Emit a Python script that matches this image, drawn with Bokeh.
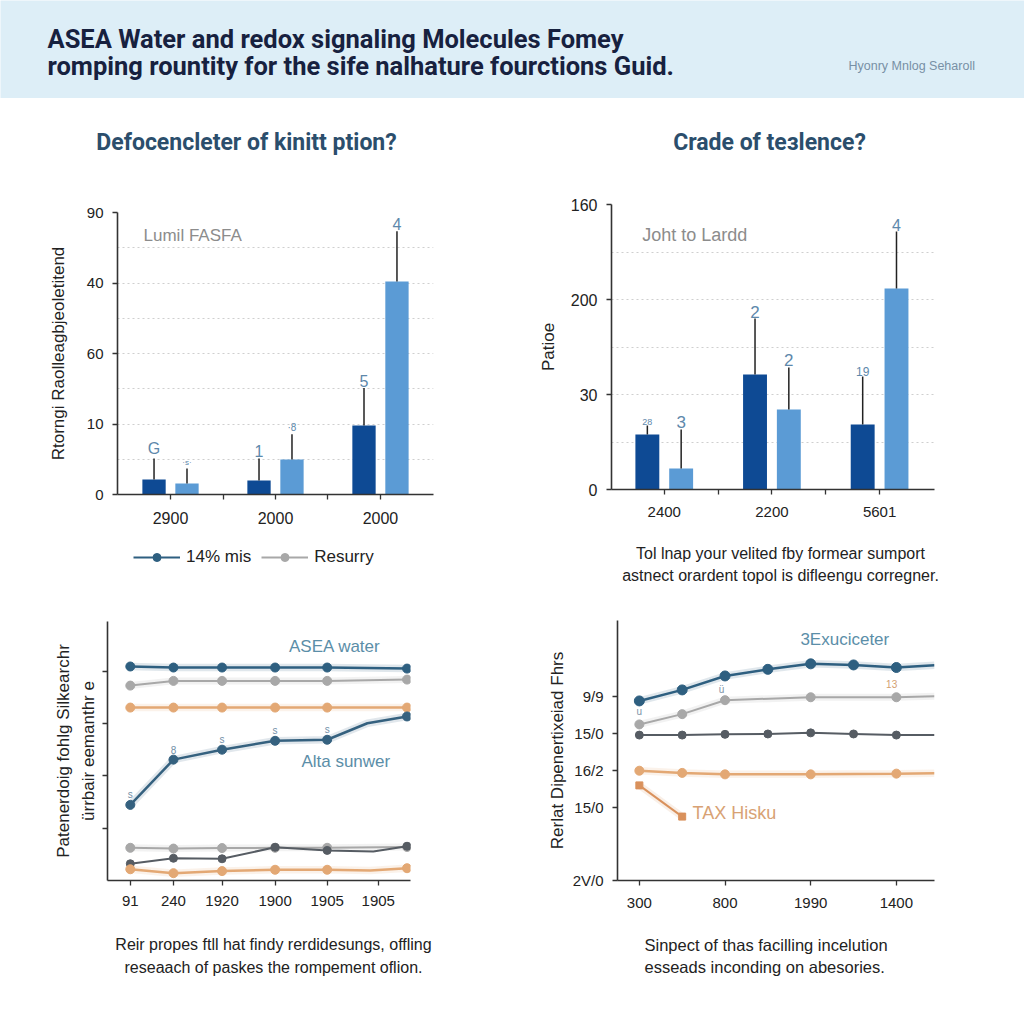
from bokeh.plotting import figure
from bokeh.layouts import column, row
from bokeh.models import (Range1d, FixedTicker, Legend, LegendItem,
                          LinearAxis, ColumnDataSource)
from bokeh.core.properties import value, field
from bokeh.embed import file_html
from bokeh.resources import INLINE

NAN = float("nan")

# ---------------- data ----------------
header_title = ["ASEA Water and redox signaling Molecules Fomey",
                "romping rountity for the sife nalhature fourctions Guid."]
header_note = "Hyonry Mnlog Seharoll"

# top-left grouped bars
tl_title = "Defocencleter of kinitt ption?"
tl_ylabel = "Rtorngi Raolleagbjeoletitend"
tl_categories = ["2900", "2000", "2000"]
tl_ytick_values = [0, 22.5, 45, 67.5, 90]
tl_ytick_labels = ["0", "10", "60", "40", "90"]
tl_dark = [4.8, 4.5, 22.0]
tl_light = [3.5, 11.2, 68.0]
tl_dark_err = [11.5, 11.5, 34.0]
tl_light_err = [8.3, 19.2, 84.0]
tl_dark_marks = ["G", "1", "5"]
tl_light_marks = ["·s·", "·8", "4"]
tl_note = "Lumil FASFA"
tl_legend = ["14% mis", "Resurry"]

# top-right grouped bars
tr_title = "Crade of te\u0437lence?"
tr_ylabel = "Patioe"
tr_categories = ["2400", "2200", "5601"]
tr_ytick_values = [0, 160 / 3, 320 / 3, 160]
tr_ytick_labels = ["0", "30", "200", "160"]
tr_dark = [30.9, 64.6, 36.5]
tr_light = [11.8, 44.9, 112.8]
tr_dark_err = [35.9, 96.0, 63.4]
tr_light_err = [33.7, 68.5, 144.8]
tr_dark_marks = ["28", "2", "19"]
tr_light_marks = ["3", "2", "4"]
tr_note = "Joht to Lardd"
tr_caption = ["Tol lnap your velited fby formear sumport",
              "astnect orardent topol is difleengu corregner."]

# bottom-left lines
bl_ylabel = ["Patenerdoig fohlg Silkearchr", "\u00fcrrbair eemanthr e"]
bl_xticks = [0, 0.87, 1.85, 2.92, 3.97, 5.0]
bl_xlabels = ["91", "240", "1920", "1900", "1905", "1905"]
bl_yticks = [2, 4, 6, 8]
bl_x = [0, 0.87, 1.85, 2.92, 3.97, 5.58]
bl_asea = [8.18, 8.14, 8.14, 8.14, 8.14, 8.10]
bl_gray_hi = [7.45, 7.63, 7.63, 7.63, 7.63, 7.68]
bl_orange_hi = [6.61, 6.61, 6.61, 6.61, 6.61, 6.61]
bl_alta_x = [0, 0.87, 1.85, 2.92, 3.97, 4.78, 5.58]
bl_alta = [2.89, 4.62, 5.00, 5.34, 5.38, 6.01, 6.27]
bl_alta_marks = ["s", "8", "s", "s", "s"]
bl_gray_lo = [1.25, 1.22, 1.24, 1.25, 1.25, 1.28]
bl_dark_x = [0, 0.87, 1.85, 2.92, 3.97, 4.9, 5.58]
bl_dark = [0.64, 0.85, 0.83, 1.27, 1.15, 1.11, 1.31]
bl_orange_lo_x = [0, 0.87, 1.85, 2.92, 3.97, 4.84, 5.58]
bl_orange_lo = [0.43, 0.28, 0.36, 0.41, 0.41, 0.38, 0.47]
bl_notes = ["ASEA water", "Alta sunwer"]
bl_caption = ["Reir propes ftll hat findy rerdidesungs, offling",
              "reseaach of paskes the rompement oflion."]

# bottom-right lines
br_ylabel = "Rerlat Dipenertix\u0435iad Fhrs"
br_yticks = [0, 2, 3, 4, 5]
br_ylabels = ["2V/0", "15/0", "16/2", "15/0", "9/9"]
br_xticks = [0, 2, 4, 6]
br_xlabels = ["300", "800", "1990", "1400"]
br_x = [0, 1, 2, 3, 4, 5, 6, 6.89]
br_blue = [4.89, 5.19, 5.57, 5.75, 5.90, 5.87, 5.80, 5.86]
br_dark = [3.96, 3.96, 3.98, 3.99, 4.02, 3.99, 3.96, 3.96]
br_sparse_x = [0, 1, 2, 4, 6, 6.89]
br_gray = [4.25, 4.53, 4.91, 4.99, 4.99, 5.02]
br_orange = [2.99, 2.93, 2.89, 2.89, 2.91, 2.92]
br_tax_x = [0, 1]
br_tax = [2.59, 1.74]
br_notes = ["3Exuciceter", "TAX Hisku"]
br_small = ["u", "\u00fc", "13"]
br_small_x = [0, 1.92, 5.89]
br_small_y = [4.6, 5.2, 5.34]
br_caption = ["Sinpect of thas facilling incelution",
              "esseads inconding on abesories."]

# ---------------- style ----------------
FONT = "Liberation Sans"
TFONT = "Roboto"
DARK_BAR = "#0e4a94"
LIGHT_BAR = "#5b9bd5"
BLUE = "#2e5f80"
GRAY = "#a8a8a8"
ORANGE = "#e3a874"
DGRAY = "#565c63"
LABEL_BLUE = "#5d88ab"
NOTE_BLUE = "#5b8ea8"
W = 512


def iso(fig):
    # wrap a figure on its own so that no frame alignment with siblings happens
    return row(fig, spacing=0)


def strip(width, height, bg="white"):
    s = figure(width=width, height=height, x_range=Range1d(0, width),
               y_range=Range1d(0, height), toolbar_location=None,
               output_backend="svg", x_axis_type=None, y_axis_type=None,
               min_border=0, title=None)
    s.grid.visible = False
    s.outline_line_color = None
    s.background_fill_color = bg
    s.border_fill_color = bg
    return s


def strip_text(s, xs, ys_from_top, texts, size, color="#222222", font=FONT,
               style="normal", align="left"):
    h = s.height
    s.text(x=xs, y=[h - y for y in ys_from_top], text=texts, text_font=value(font),
           text_font_style=style, text_font_size=size, text_color=color,
           text_baseline="middle", text_align=align)


def base_fig(width, height, xr, yr, borders):
    l, r, t, b = borders
    p = figure(width=width, height=height, x_range=Range1d(*xr), y_range=Range1d(*yr),
               toolbar_location=None, output_backend="svg", title=None,
               min_border_left=l, min_border_right=r,
               min_border_top=t, min_border_bottom=b)
    p.outline_line_color = None
    p.background_fill_color = "white"
    p.border_fill_color = "white"
    p.xgrid.visible = False
    p.ygrid.visible = False
    for ax in p.axis:
        ax.axis_line_color = "#333333"
        ax.axis_line_width = 1.6
        ax.major_tick_line_color = "#333333"
        ax.major_tick_line_width = 1.3
        ax.major_tick_in = 0
        ax.major_tick_out = 5
        ax.minor_tick_line_color = None
        ax.major_label_text_font = FONT
        ax.major_label_text_color = "#222222"
        ax.major_label_text_font_size = "15px"
        ax.axis_label_text_font = FONT
        ax.axis_label_text_font_style = "normal"
        ax.axis_label_text_color = "#222222"
        ax.axis_label_text_font_size = "17px"
    return p


def set_ticks(axis, ticks, labels):
    axis.ticker = FixedTicker(ticks=list(ticks))
    axis.major_label_overrides = {t: s for t, s in zip(ticks, labels)}


def bar_chart(p, dark, light, dark_err, light_err, dark_marks, light_marks,
              dark_sizes, light_sizes, categories, yticks, ylabels):
    n = len(categories)
    dx, bw = 0.157, 0.222
    xd = [i - dx for i in range(n)]
    xl = [i + dx for i in range(n)]
    p.vbar(x=xd, top=dark, width=bw, fill_color=DARK_BAR, line_color=None)
    p.vbar(x=xl, top=light, width=bw, fill_color=LIGHT_BAR, line_color=None)
    p.segment(x0=xd, y0=dark, x1=xd, y1=dark_err, line_color="#222222", line_width=1.5)
    p.segment(x0=xl, y0=light, x1=xl, y1=light_err, line_color="#222222", line_width=1.5)
    src = ColumnDataSource(dict(x=xd + xl, y=list(dark_err) + list(light_err),
                                t=list(dark_marks) + list(light_marks),
                                s=list(dark_sizes) + list(light_sizes)))
    p.text(x="x", y="y", text="t", source=src, text_font_size=field("s"),
           text_align="center", text_baseline="bottom", y_offset=-1,
           text_color=LABEL_BLUE, text_font=value(FONT))
    xt = [k * 0.5 for k in range(2 * n - 1)]
    xl_labels = [categories[int(t)] if float(t).is_integer() else "" for t in xt]
    set_ticks(p.xaxis, xt, xl_labels)
    p.xaxis.major_label_standoff = 12
    set_ticks(p.yaxis, yticks, ylabels)
    p.yaxis.major_label_standoff = 9
    grid = []
    for a, b in zip(yticks[:-1], yticks[1:]):
        grid += [(a + b) / 2, b]
    p.ygrid.visible = True
    p.ygrid.ticker = FixedTicker(ticks=grid)
    p.ygrid.grid_line_color = "#cfcfcf"
    p.ygrid.grid_line_dash = "2 3"
    p.ygrid.grid_line_width = 1.2


def line_series(p, xs, ys, color, width=2.5, size=9, marker="circle", marks=None, halo=True):
    if halo:
        p.line(xs, ys, line_color=color, line_width=width + 5, line_alpha=0.15)
    p.line(xs, ys, line_color=color, line_width=width)
    mx, my = (xs, ys) if marks is None else marks
    p.scatter(mx, my, marker=marker, size=size, fill_color=color, line_color=color)


# ---------------- header ----------------
hdr = strip(1024, 98, bg="#ddeef7")
strip_text(hdr, [47, 47], [38, 65], header_title, "25.5px", color="#17213f",
           font=TFONT, style="bold")
strip_text(hdr, [848], [65], [header_note], "12.5px", color="#7890a5")

# ---------------- top-left ----------------
tl_head = strip(W, 82)
strip_text(tl_head, [246], [44], [tl_title], "23px", color="#2b4e6c", font=TFONT,
           style="bold", align="center")
tl = base_fig(W, 355, (-0.505, 2.505), (0, 90), (117, 79, 32, 41))
bar_chart(tl, tl_dark, tl_light, tl_dark_err, tl_light_err, tl_dark_marks, tl_light_marks,
          ["16px", "16px", "16px"], ["8px", "10px", "16px"], tl_categories,
          tl_ytick_values, tl_ytick_labels)
tl.yaxis.axis_label = tl_ylabel
tl.yaxis.axis_label_standoff = 16
tl.xaxis.major_label_text_font_size = "16px"
tl.text(x=[-0.257], y=[82.7], text=[tl_note], text_font=value(FONT), text_font_size="17px",
        text_color="#8c8c8c", text_baseline="middle")
tl_foot = strip(W, 65)
l1 = tl_foot.line(x=[NAN], y=[NAN], line_color=BLUE, line_width=2)
s1 = tl_foot.scatter(x=[NAN], y=[NAN], size=8, fill_color=BLUE, line_color=BLUE)
l2 = tl_foot.line(x=[NAN], y=[NAN], line_color=GRAY, line_width=2)
s2 = tl_foot.scatter(x=[NAN], y=[NAN], size=8, fill_color=GRAY, line_color=GRAY)
leg = Legend(items=[LegendItem(label=tl_legend[0], renderers=[l1, s1]),
                    LegendItem(label=tl_legend[1], renderers=[l2, s2])],
             orientation="horizontal", location=(133, 33), margin=0, padding=10,
             spacing=10, glyph_width=47, glyph_height=20, label_standoff=6,
             label_text_font=FONT, label_text_font_size="17px", label_text_color="#222222",
             border_line_color=None, background_fill_alpha=0)
tl_foot.add_layout(leg, "center")

# ---------------- top-right ----------------
tr_head = strip(W, 82)
strip_text(tr_head, [257], [44], [tr_title], "23px", color="#2b4e6c", font=TFONT,
           style="bold", align="center")
tr = base_fig(W, 350, (-0.49, 2.51), (0, 160), (99, 90, 24, 41))
bar_chart(tr, tr_dark, tr_light, tr_dark_err, tr_light_err, tr_dark_marks, tr_light_marks,
          ["9px", "17px", "12px"], ["17px", "17px", "16px"], tr_categories,
          tr_ytick_values, tr_ytick_labels)
tr.yaxis.axis_label = tr_ylabel
tr.yaxis.axis_label_standoff = 10
tr.yaxis.major_label_text_font_size = "16px"
tr.text(x=[-0.205], y=[142.6], text=[tr_note], text_font=value(FONT), text_font_size="18px",
        text_color="#8c8c8c", text_baseline="middle")
tr_foot = strip(W, 70)
strip_text(tr_foot, [268, 268], [23, 45], tr_caption, "16px", align="center")

# ---------------- bottom-left ----------------
bl = base_fig(W, 320, (-0.46, 5.65), (0, 9.9), (107, 102, 21, 40))
set_ticks(bl.xaxis, bl_xticks, bl_xlabels)
bl.xaxis.major_label_standoff = 10
set_ticks(bl.yaxis, bl_yticks, ["" for _ in bl_yticks])
bl.yaxis.major_label_standoff = 0
bl.yaxis.axis_label = bl_ylabel[1]
bl.yaxis.axis_label_standoff = 5
extra = LinearAxis(axis_label=bl_ylabel[0], ticker=FixedTicker(ticks=[]),
                   axis_line_color=None, major_tick_line_color=None,
                   minor_tick_line_color=None, major_label_text_font_size="0px",
                   major_label_standoff=0, major_tick_out=0, major_tick_in=0,
                   axis_label_standoff=3, axis_label_text_font=FONT,
                   axis_label_text_font_style="normal", axis_label_text_color="#222222",
                   axis_label_text_font_size="17px")
bl.add_layout(extra, "left")
line_series(bl, bl_x, bl_asea, BLUE)
line_series(bl, bl_x, bl_gray_hi, GRAY, width=2)
line_series(bl, bl_x, bl_orange_hi, ORANGE)
keep = (0, 1, 2, 3, 4, 6)
line_series(bl, bl_alta_x, bl_alta, "#35617f",
            marks=([bl_alta_x[i] for i in keep], [bl_alta[i] for i in keep]))
line_series(bl, bl_x, bl_gray_lo, GRAY, width=2)
line_series(bl, bl_dark_x, bl_dark, DGRAY, width=2, size=8, halo=False,
            marks=([bl_dark_x[i] for i in keep], [bl_dark[i] for i in keep]))
line_series(bl, bl_orange_lo_x, bl_orange_lo, ORANGE,
            marks=([bl_orange_lo_x[i] for i in keep], [bl_orange_lo[i] for i in keep]))
bl.text(x=bl_alta_x[:5], y=bl_alta[:5], text=bl_alta_marks, y_offset=-10,
        text_align="center", text_baseline="middle", text_font_size="10px",
        text_color="#7290a8", text_font=value(FONT))
bl.text(x=[3.2, 3.45], y=[8.94, 4.55], text=bl_notes, text_font=value(FONT),
        text_font_size="17px", text_color=NOTE_BLUE, text_baseline="middle")
bl_foot = strip(W, 80)
strip_text(bl_foot, [273, 273], [24, 47], bl_caption, "16px", align="center")

# ---------------- bottom-right ----------------
br = base_fig(W, 320, (-0.51, 6.89), (0, 7.08), (105, 90, 20, 40))
set_ticks(br.xaxis, br_xticks, br_xlabels)
br.xaxis.major_label_standoff = 12
set_ticks(br.yaxis, br_yticks, br_ylabels)
br.yaxis.major_label_standoff = 9
br.yaxis.axis_label = br_ylabel
br.yaxis.axis_label_standoff = 3
line_series(br, br_x, br_blue, BLUE, size=10, marks=(br_x[:-1], br_blue[:-1]))
line_series(br, br_sparse_x, br_gray, GRAY, width=2, marks=(br_sparse_x[:-1], br_gray[:-1]))
line_series(br, br_x, br_dark, DGRAY, width=2, size=8, marks=(br_x[:-1], br_dark[:-1]), halo=False)
line_series(br, br_sparse_x, br_orange, ORANGE, marks=(br_sparse_x[:-1], br_orange[:-1]))
line_series(br, br_tax_x, br_tax, "#d9915c", width=2, size=7, marker="square")
br.text(x=br_small_x, y=br_small_y, text=br_small, text_align="center",
        text_baseline="middle", text_font_size="10px",
        text_color=["#8093a8", "#8093a8", "#d4a070"], text_font=value(FONT))
br.text(x=[3.76, 1.24], y=[6.57, 1.85], text=br_notes, text_font=value(FONT),
        text_font_size=["17px", "18px"], text_color=[NOTE_BLUE, "#d8a274"],
        text_baseline="middle")
br_foot = strip(W, 80)
strip_text(br_foot, [132, 132], [24, 46], br_caption, "16.5px")

top = row(column(iso(tl_head), iso(tl), iso(tl_foot), spacing=0),
          column(iso(tr_head), iso(tr), iso(tr_foot), spacing=0), spacing=0)
bottom = row(column(iso(bl), iso(bl_foot), spacing=0),
             column(iso(br), iso(br_foot), spacing=0), spacing=0)
layout = column(iso(hdr), top, bottom, spacing=0)
open("out.html", "w").write(file_html(layout, INLINE, title="chart"))
